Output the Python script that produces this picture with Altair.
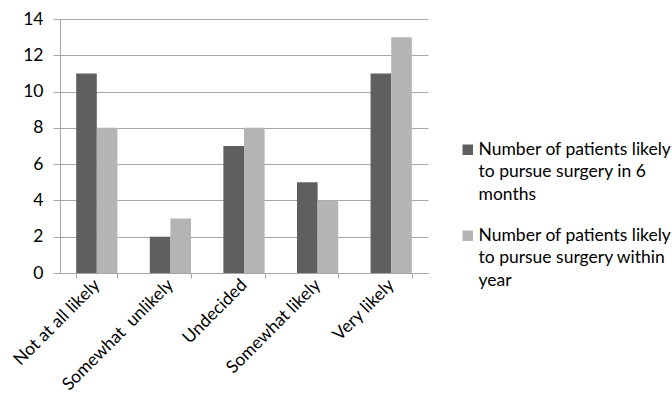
import altair as alt
import pandas as pd

categories = ["Not at all likely", "Somewhat\u00a0 unlikely", "Undecided", "Somewhat likely", "Very likely"]
six_months = [11, 2, 7, 5, 11]
within_year = [8, 3, 8, 4, 13]
series_names = [
    "Number of patients likely|to pursue surgery in 6|months",
    "Number of patients likely|to pursue surgery within|year",
]
series_colors = ["#5f5f5f", "#b4b4b4"]

rows = []
for cat, a, b in zip(categories, six_months, within_year):
    rows.append({"category": cat, "series": series_names[0], "value": a})
    rows.append({"category": cat, "series": series_names[1], "value": b})
df = pd.DataFrame(rows)

font = "Lato"
fsize = 17.5

chart = (
    alt.Chart(df)
    .mark_bar(stroke=None)
    .encode(
        x=alt.X(
            "category:N",
            sort=categories,
            title=None,
            scale=alt.Scale(paddingInner=0.44, paddingOuter=0.22),
            axis=alt.Axis(
                labelAngle=-45,
                labelAlign="right",
                labelBaseline="middle",
                labelFontSize=fsize,
                labelColor="#000000",
                labelPadding=4,
                labelLimit=300,
                tickBand="extent",
                tickSize=5,
                tickColor="#a6a6a6",
                domainColor="#a6a6a6",
                grid=False,
            ),
        ),
        xOffset=alt.XOffset("series:N", sort=series_names),
        y=alt.Y(
            "value:Q",
            title=None,
            scale=alt.Scale(domain=[0, 14], nice=False),
            axis=alt.Axis(
                values=[0, 2, 4, 6, 8, 10, 12, 14],
                labelFontSize=fsize,
                labelColor="#000000",
                labelPadding=10,
                tickSize=7,
                tickColor="#a6a6a6",
                domainColor="#a6a6a6",
                gridColor="#a6a6a6",
                grid=True,
            ),
        ),
        color=alt.Color(
            "series:N",
            sort=series_names,
            scale=alt.Scale(domain=series_names, range=series_colors),
            legend=alt.Legend(
                title=None,
                orient="none",
                legendX=399,
                legendY=122,
                symbolType="square",
                symbolSize=110,
                symbolStrokeWidth=0,
                labelFontSize=fsize,
                labelColor="#000000",
                labelLimit=300,
                labelOffset=2,
                labelExpr="split(datum.label, '|')",
                rowPadding=22,
            ),
        ),
    )
    .properties(
        width=368,
        height=254,
        autosize=alt.AutoSizeParams(type="none"),
        padding={"left": 60, "top": 19, "right": 244, "bottom": 140},
    )
    .configure(font=font, style={"guide-label": {"lineHeight": 22.5}})
    .configure_view(stroke=None)
)

chart.save("out.html", embed_options={"renderer": "svg", "actions": False})
